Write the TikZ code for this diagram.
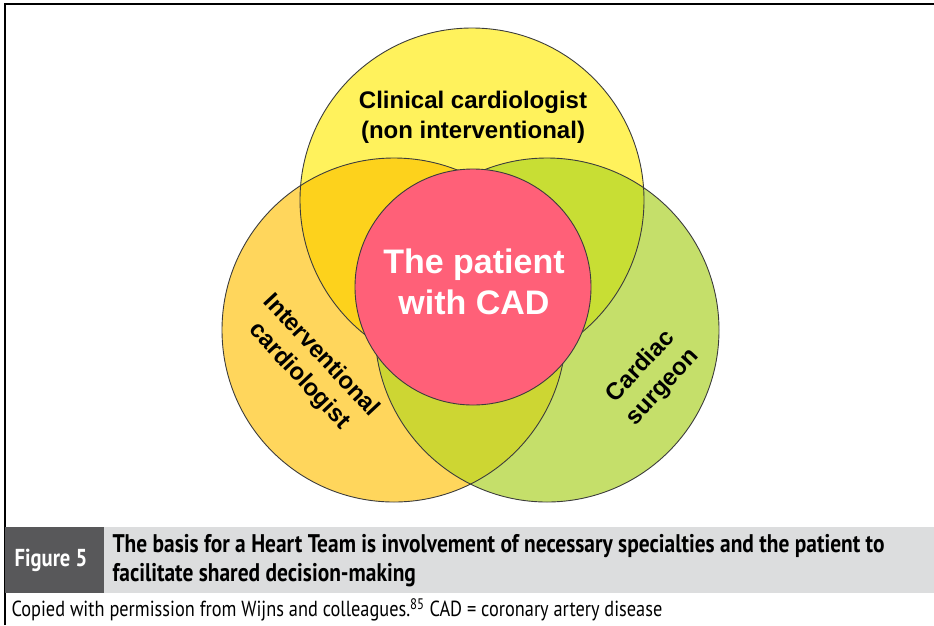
\documentclass[tikz,border=0pt]{standalone}
\usepackage{fontspec}
\setmainfont{Liberation Sans}
\newfontfamily\capfont[FakeStretch=0.84]{PT Sans}
\usetikzlibrary{positioning}
\definecolor{clinyellow}{HTML}{FFF25C}
\definecolor{intorange}{HTML}{FFD65C}
\definecolor{surggreen}{HTML}{C5DF6A}
\definecolor{ciorange}{HTML}{FDD21C}
\definecolor{csgreen}{HTML}{C8DE34}
\definecolor{isolive}{HTML}{CDD633}
\definecolor{patientpink}{HTML}{FF6078}
\definecolor{ringgray}{HTML}{3C3C3C}
\definecolor{figgray}{HTML}{58585A}
\definecolor{bargray}{HTML}{DCDDDE}
\tikzset{
  ring/.style={draw=ringgray, line width=0.9pt},
  role/.style={font=\bfseries\fontsize{24}{30}\selectfont, align=center, text=black, inner sep=1pt},
  captext/.style={font=\capfont\bfseries\fontsize{25.5}{29}\selectfont, align=left, anchor=west}
}
\begin{document}
\begin{tikzpicture}[x=1pt,y=-1pt]
\useasboundingbox (0,0) rectangle (934,625);
\def\rad{172pt}
\coordinate (CC) at (472,200);
\coordinate (IC) at (394,330);
\coordinate (CS) at (547,330);
\coordinate (PT) at (473,287);
% the three specialties
\foreach \c/\col in {CC/clinyellow, IC/intorange, CS/surggreen}
  \fill[\col] (\c) circle[radius=\rad];
% pairwise overlaps
\foreach \a/\b/\col in {CC/IC/ciorange, CC/CS/csgreen, IC/CS/isolive} {
  \begin{scope}
    \clip (\a) circle[radius=\rad];
    \fill[\col] (\b) circle[radius=\rad];
  \end{scope}
}
\foreach \c in {CC,IC,CS}
  \draw[ring] (\c) circle[radius=\rad];
% the patient
\fill[patientpink] (PT) circle[radius=118pt];
\draw[ring] (PT) circle[radius=118pt];
\node[role] (clinical) at (473,117) {Clinical cardiologist\\(non interventional)};
\node[role, rotate=-47] (interv) at (310,366) {Interventional\\cardiologist};
\node[role, rotate=47] (surgeon) at (652,377) {Cardiac\\surgeon};
\node[font=\bfseries\fontsize{34}{41}\selectfont, align=center, text=white] (patient) at (474,282) {The patient\\with CAD};
% frame and caption
\draw[line width=1.4pt] (5,625) -- (5,4) -- (934,4);
\fill[figgray] (5,527) rectangle (104,593);
\fill[bargray] (104,527) rectangle (934,593);
\node[font=\capfont\bfseries\fontsize{24.5}{28}\selectfont, text=white] (fignum) at (51,560) {Figure 5};
\node[captext] (captitle) at (109,561) {The basis for a Heart Team is involvement of necessary specialties and the patient to\\facilitate shared decision-making};
\node[font=\capfont\fontsize{21.8}{26}\selectfont, anchor=west] (credit) at (8,610) {Copied with permission from Wijns and colleagues.\textsuperscript{85} CAD = coronary artery disease};
\end{tikzpicture}
\end{document}
